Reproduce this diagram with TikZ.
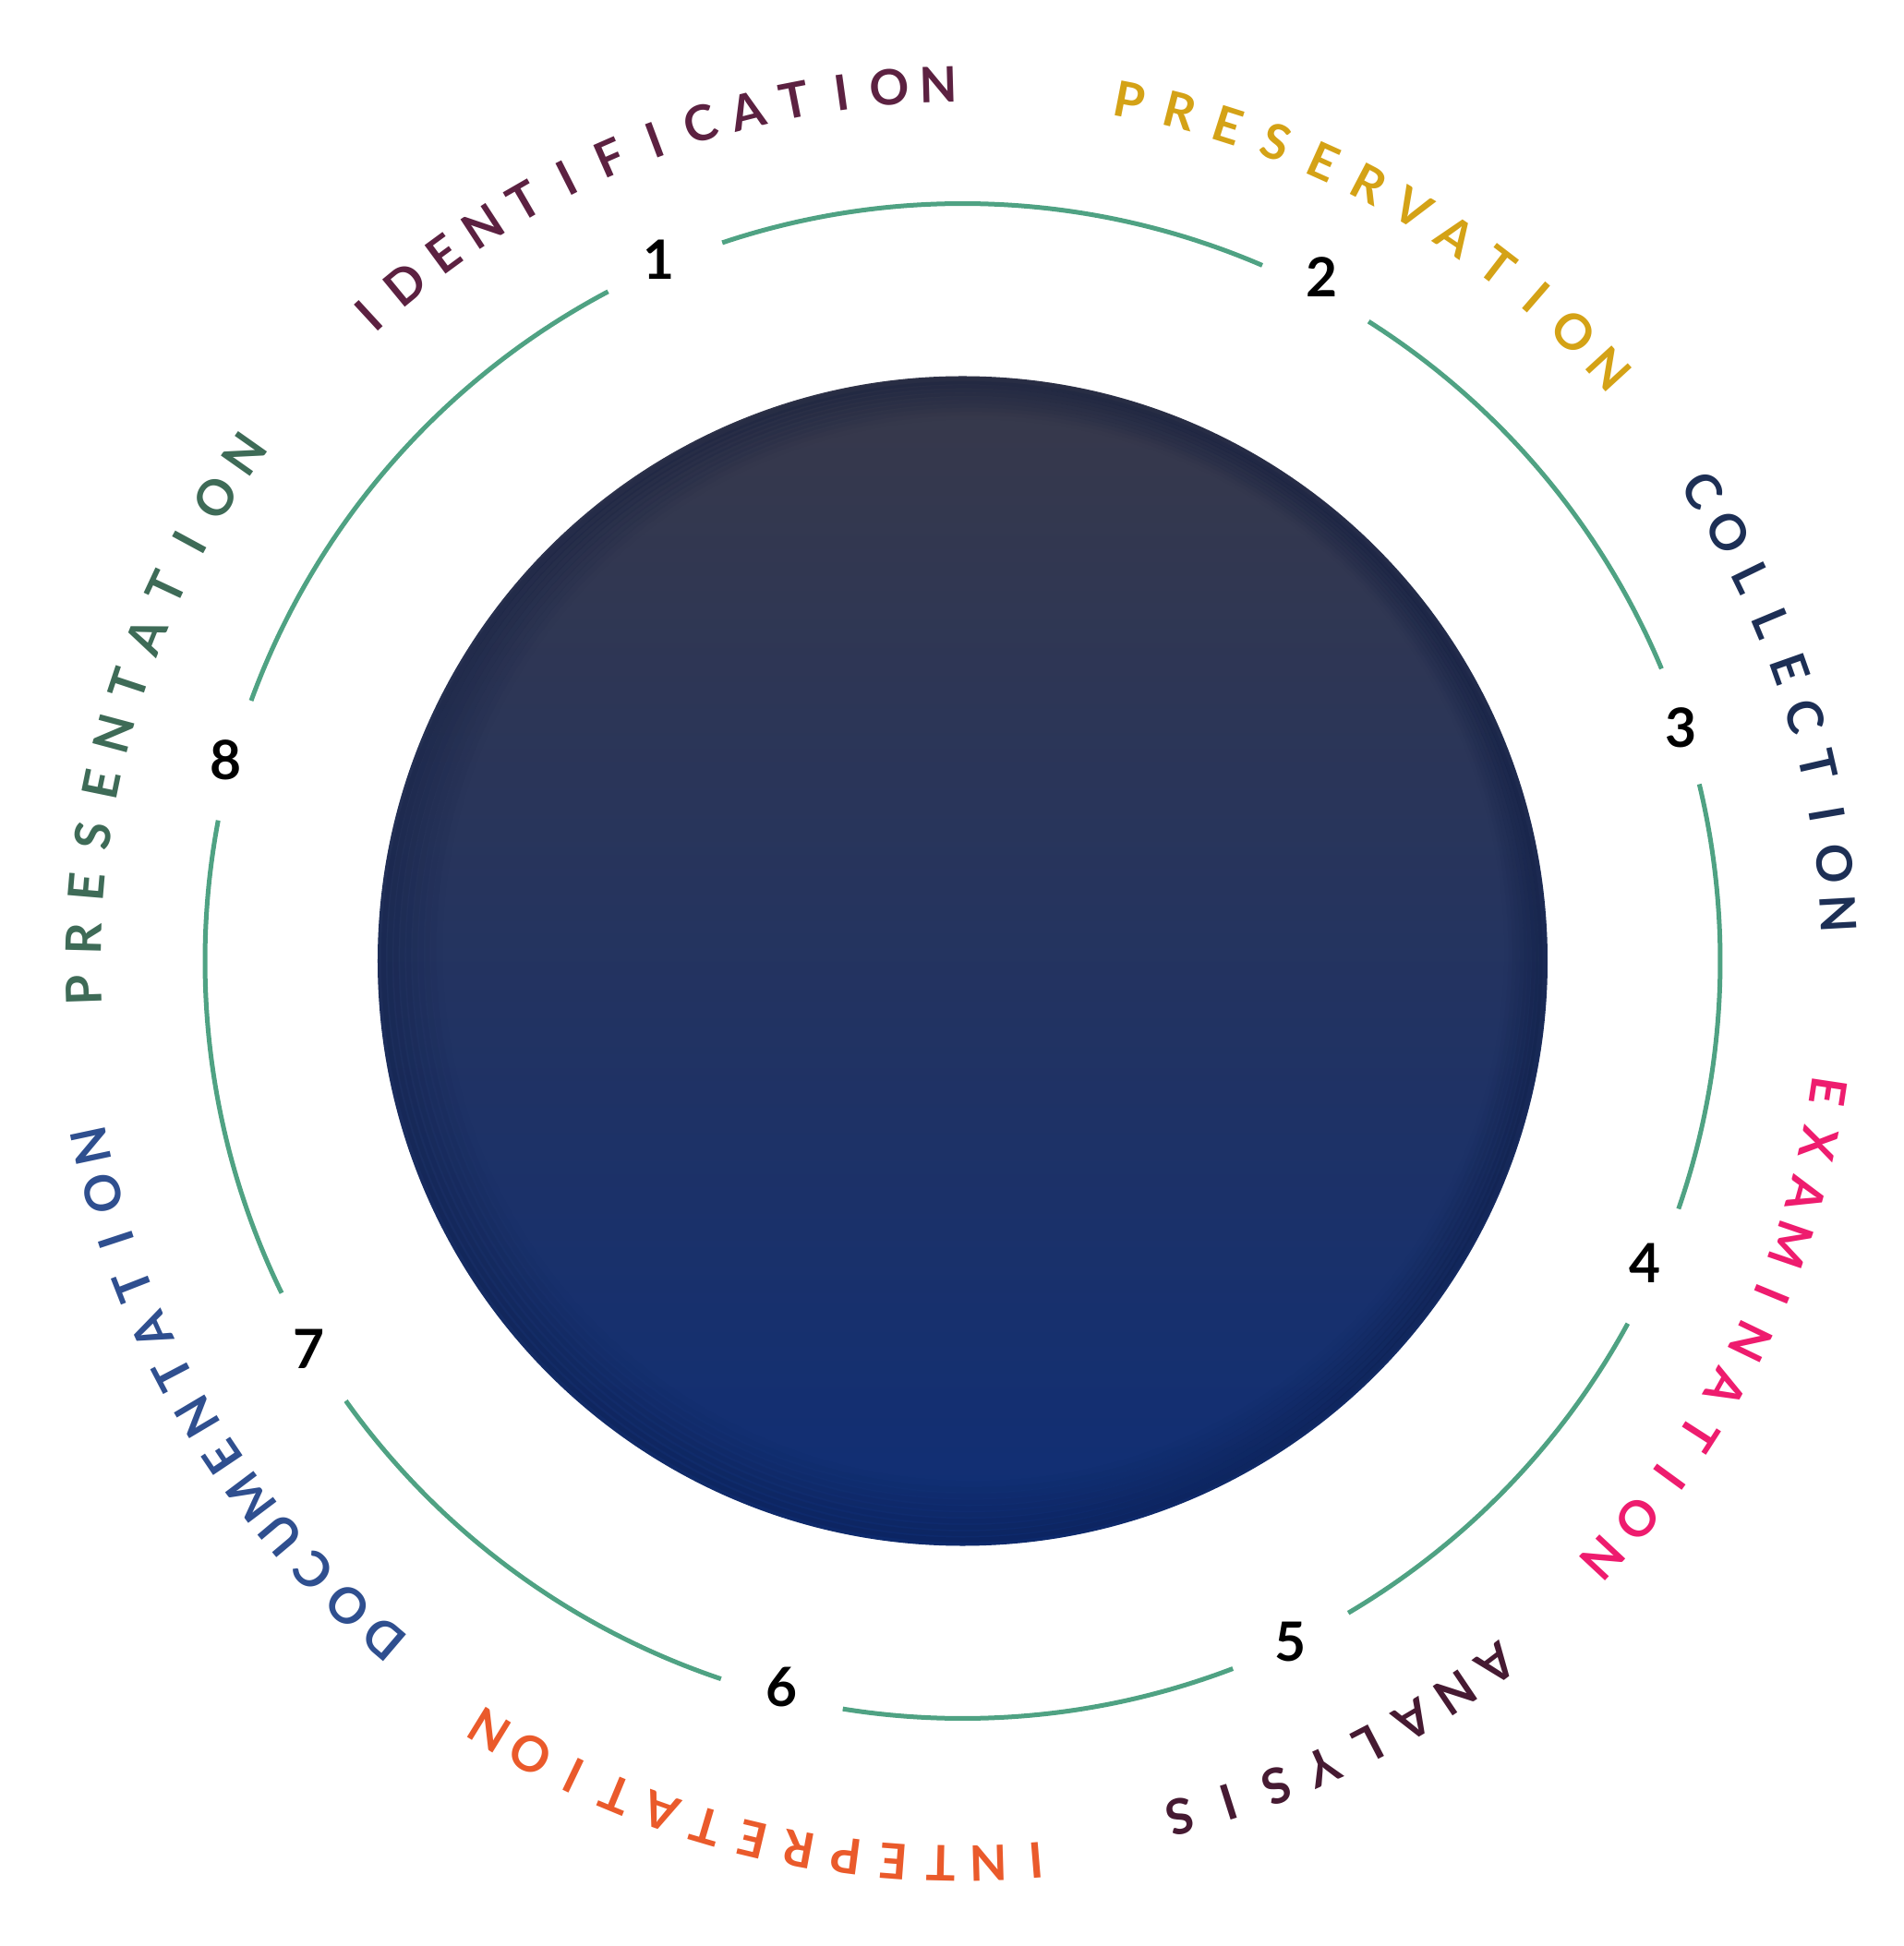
\documentclass[tikz,border=0pt]{standalone}
\usepackage{fontspec}
\newfontfamily\latofont{Lato}
\newcommand\wordfont{\latofont\bfseries\fontsize{15.1}{18}\selectfont}
\newcommand\numfont{\latofont\bfseries\fontsize{16.7}{20}\selectfont}
\definecolor{ringgreen}{HTML}{4FA283}
\definecolor{cIdent}{HTML}{5C2141}
\definecolor{cPres}{HTML}{D4A216}
\definecolor{cColl}{HTML}{1D2F55}
\definecolor{cExam}{HTML}{EE1C6E}
\definecolor{cAnal}{HTML}{461A32}
\definecolor{cInter}{HTML}{EA5A2B}
\definecolor{cDoc}{HTML}{2F4F8F}
\definecolor{cPresent}{HTML}{3E6B57}
\definecolor{discTop}{HTML}{38394A}
\definecolor{discMid}{HTML}{25315A}
\definecolor{discBot}{HTML}{0F2E76}
\definecolor{rimDark}{HTML}{08153A}
\newlength\chw
\newcommand\arcword[6]{%
  \gdef\awsum{0}\gdef\awn{0}\gdef\awfirst{0}\gdef\awlast{0}%
  \foreach \ch in {#6} {%
    \settowidth\chw{\wordfont\ch}%
    \pgfmathsetmacro\awtmp{\awsum+\chw}\global\let\awsum\awtmp
    \ifnum\awn=0 \pgfmathsetmacro\awtmp{\chw}\global\let\awfirst\awtmp\fi
    \pgfmathsetmacro\awtmp{\chw}\global\let\awlast\awtmp
    \pgfmathtruncatemacro\awtmp{\awn+1}\global\let\awn\awtmp
  }%
  \pgfmathsetmacro\awR{#3*28.45274}%
  \pgfmathsetmacro\awtrack{(((#1)-(#2))*pi/180*\awR-(\awsum-\awfirst/2-\awlast/2))/(\awn-1)}%
  \gdef\awang{#1}\gdef\awprev{-1}\gdef\awi{0}%
  \foreach \ch in {#6} {%
    \settowidth\chw{\wordfont\ch}%
    \pgfmathsetmacro\awhalf{\chw/2}%
    \ifdim\awprev pt<0pt\relax\else
      \pgfmathsetmacro\awtmp{\awang-(\awprev+\awhalf+\awtrack)/\awR*180/pi}\global\let\awang\awtmp
    \fi
    \global\let\awprev\awhalf
    \pgfmathtruncatemacro\awtmp{\awi+1}\global\let\awi\awtmp
    \node[wordtext, text=#4, rotate=\awang-90] (#5\awi) at (\awang:#3cm) {\ch};
  }%
}
\tikzset{
  wordtext/.style={font=\wordfont, inner sep=0pt, anchor=center},
  numtext/.style={font=\numfont, text=black, inner sep=0pt, anchor=center},
  ringarc/.style={draw=ringgreen, line width=0.05cm}
}
\begin{document}
\begin{tikzpicture}
\useasboundingbox (-10.425,-10.67) rectangle (10.195,10.41);
% central disc
\shade[top color=discTop, middle color=discMid, bottom color=discBot] (0,0) circle (6.335cm);
\begin{scope}
  \clip (0,0) circle (6.335cm);
  \foreach \k in {0,...,9}
    \draw[rimDark, draw opacity={0.018*(10-\k)}, line width=0.12cm]
      ({0.013*\k},{0.013*\k}) circle ({6.335-0.03-0.055*\k});
\end{scope}
% numbers
\node[numtext] (n1) at (113.4:8.28cm) {1};
\node[numtext] (n2) at (62.3:8.37cm) {2};
\node[numtext] (n3) at (18:8.18cm) {3};
\node[numtext] (n4) at (-23.9:8.08cm) {4};
\node[numtext] (n5) at (-64.3:8.18cm) {5};
\node[numtext] (n6) at (-104:8.11cm) {6};
\node[numtext] (n7) at (-149.3:8.23cm) {7};
\node[numtext] (n8) at (164.7:8.27cm) {8};
% ring arcs between numbers
\draw[ringarc] (108.5:8.205cm) arc[start angle=108.5, end angle=66.7, radius=8.205cm];
\draw[ringarc] (57.6:8.205cm) arc[start angle=57.6, end angle=22.7, radius=8.205cm];
\draw[ringarc] (13.5:8.205cm) arc[start angle=13.5, end angle=-19.1, radius=8.205cm];
\draw[ringarc] (-28.6:8.205cm) arc[start angle=-28.6, end angle=-59.4, radius=8.205cm];
\draw[ringarc] (-69.1:8.205cm) arc[start angle=-69.1, end angle=-99.1, radius=8.205cm];
\draw[ringarc] (-108.6:8.205cm) arc[start angle=-108.6, end angle=-144.5, radius=8.205cm];
\draw[ringarc] (-154:8.205cm) arc[start angle=-154, end angle=-190.7, radius=8.205cm];
\draw[ringarc] (159.9:8.205cm) arc[start angle=159.9, end angle=117.9, radius=8.205cm];
% words along the outer circle
\arcword{132.6}{91.6}{9.50}{cIdent}{wa}{I,D,E,N,T,I,F,I,C,A,T,I,O,N}
\arcword{79.0}{42.5}{9.50}{cPres}{wb}{P,R,E,S,E,R,V,A,T,I,O,N}
\arcword{32.5}{3.1}{9.50}{cColl}{wc}{C,O,L,L,E,C,T,I,O,N}
\arcword{-8.6}{-43}{9.48}{cExam}{wd}{E,X,A,M,I,N,A,T,I,O,N}
\arcword{-52.8}{-75.7}{9.56}{cAnal}{we}{A,N,A,L,Y,S,I,S}
\arcword{-85.3}{-121.6}{9.78}{cInter}{wf}{I,N,T,E,P,R,E,T,A,T,I,O,N}
\arcword{-130.5}{-168.0}{9.65}{cDoc}{wg}{D,O,C,U,M,E,N,T,A,T,I,O,N}
\arcword{181.9}{144.8}{9.52}{cPresent}{wh}{P,R,E,S,E,N,T,A,T,I,O,N}
\end{tikzpicture}
\end{document}
